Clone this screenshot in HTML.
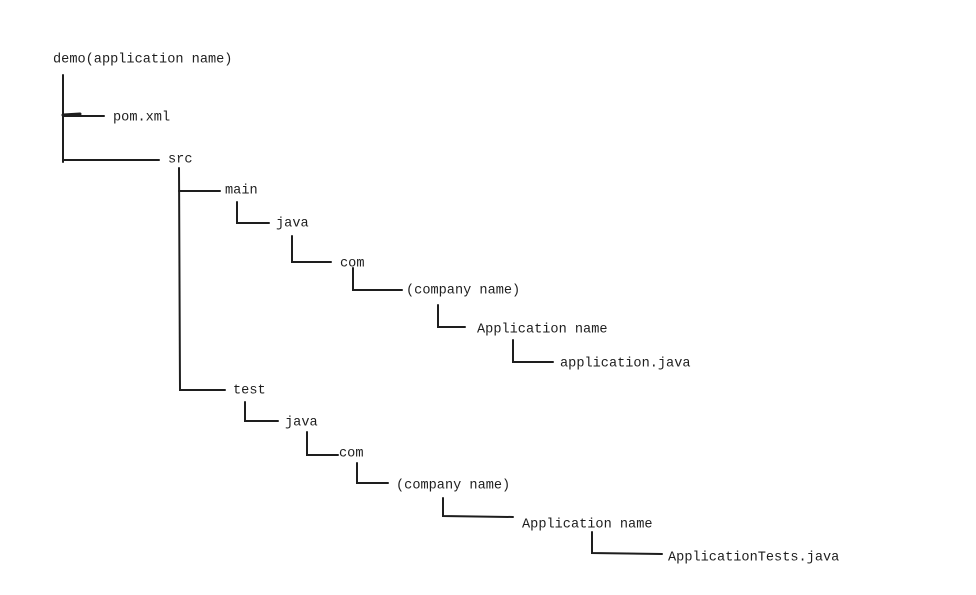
<!DOCTYPE html>
<html><head><meta charset="utf-8"><style>
html,body{margin:0;padding:0;background:#fff;}
svg{display:block}
text{font-family:"Liberation Mono",monospace;font-size:13.6px;fill:#1e1e1e;dominant-baseline:central}
</style></head><body>
<svg width="976" height="595" viewBox="0 0 976 595" xmlns="http://www.w3.org/2000/svg">
<g stroke="#1e1e1e" stroke-width="2" fill="none" stroke-linecap="round">
<path d="M63 75 L63 162"/>
<path d="M63 116 L104 116"/>
<path d="M63 115 L80 114" stroke-width="3"/>
<path d="M63 160 L159 160"/>
<path d="M179 168 L180 390 L225 390"/>
<path d="M179 191 L220 191"/>
<path d="M237 202 L237 223 L269 223"/>
<path d="M292 236 L292 262 L331 262"/>
<path d="M353 268 L353 290 L402 290"/>
<path d="M438 305 L438 327 L465 327"/>
<path d="M513 340 L513 362 L553 362"/>
<path d="M245 402 L245 421 L278 421"/>
<path d="M307 432 L307 455 L338 455"/>
<path d="M357 463 L357 483 L388 483"/>
<path d="M443 498 L443 516 L513 517"/>
<path d="M592 532 L592 553 L662 554"/>
</g>
<g transform="translate(0,2)">
<text x="53" y="58">demo(application name)</text>
<text x="113" y="116">pom.xml</text>
<text x="168" y="158">src</text>
<text x="225" y="189">main</text>
<text x="276" y="222">java</text>
<text x="340" y="262">com</text>
<text x="406" y="289">(company name)</text>
<text x="477" y="328">Application name</text>
<text x="560" y="362">application.java</text>
<text x="233" y="389">test</text>
<text x="285" y="421">java</text>
<text x="339" y="452">com</text>
<text x="396" y="484">(company name)</text>
<text x="522" y="523">Application name</text>
<text x="668" y="556">ApplicationTests.java</text>
</g>
</svg>
</body></html>
